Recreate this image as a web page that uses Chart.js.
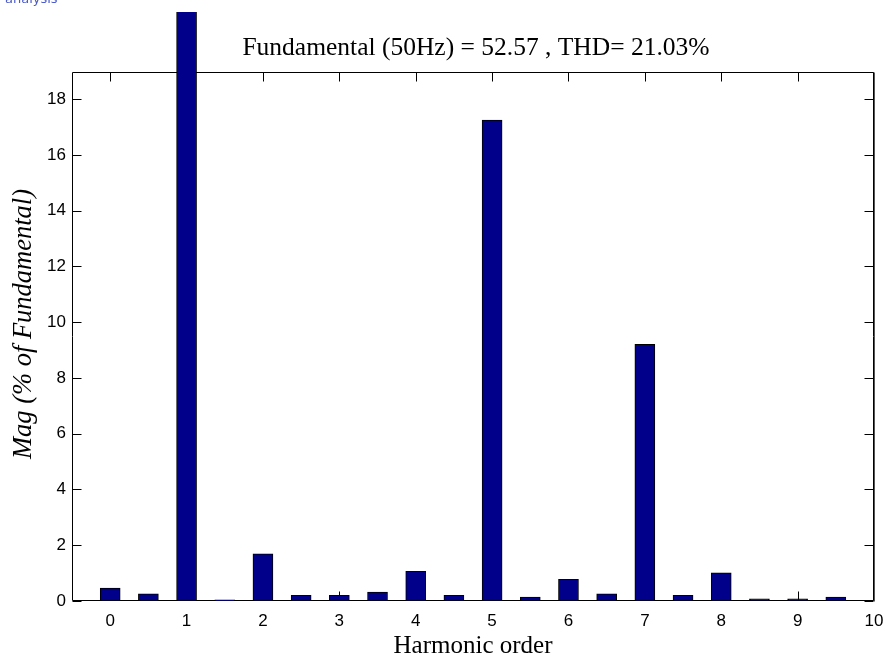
<!DOCTYPE html>
<html>
<head>
<meta charset="utf-8">
<script src="https://cdn.jsdelivr.net/npm/chart.js@4.4.1/dist/chart.umd.min.js"></script>
<style>
  html, body { margin: 0; padding: 0; background: #fff; }
  #wrap { position: relative; width: 889px; height: 661px; overflow: hidden; background: #fff; }
  #cap { position: absolute; left: 5px; top: -9px; font: 13px "DejaVu Sans", sans-serif; color: #4a5acc; }
  canvas { display: block; }
</style>
</head>
<body>
<div id="wrap">
  <div id="cap">analysis</div>
  <canvas id="c" width="889" height="661"></canvas>
</div>
<script>
// Harmonic spectrum, magnitudes in % of the fundamental
const harmonicOrders = [0, 0.5, 1, 1.5, 2, 2.5, 3, 3.5, 4, 4.5, 5, 5.5, 6, 6.5, 7, 7.5, 8, 8.5, 9, 9.5];
const magnitudes     = [0.46, 0.26, 100, 0.04, 1.69, 0.2, 0.2, 0.32, 1.06, 0.2, 17.25, 0.14, 0.78, 0.26, 9.2, 0.2, 1.01, 0.08, 0.08, 0.14];
const xTickValues = [0, 1, 2, 3, 4, 5, 6, 7, 8, 9, 10];
const yTickValues = [0, 2, 4, 6, 8, 10, 12, 14, 16, 18];
const titleText = 'Fundamental (50Hz) = 52.57 , THD= 21.03%';
const xLabel = 'Harmonic order';
const yLabel = 'Mag (% of Fundamental)';

const points = harmonicOrders.map((h, i) => ({ x: h, y: magnitudes[i] }));
const serif = '"Liberation Serif", "Times New Roman", serif';
const sans = '"Liberation Sans", Arial, sans-serif';

// Axes box with inward tick marks on all four sides, drawn beneath the bars
const framePlugin = {
  id: 'frame',
  beforeDatasetsDraw(chart) {
    const { ctx, chartArea: a, scales: { x, y } } = chart;
    const L = Math.round(a.left) + 0.5, R = Math.round(a.right) - 0.5;
    const T = Math.round(a.top) + 0.5, B = Math.round(a.bottom) - 0.5;
    const len = 9;
    ctx.save();
    ctx.strokeStyle = '#000';
    ctx.lineWidth = 1;
    ctx.beginPath();
    ctx.moveTo(L, T); ctx.lineTo(R, T); ctx.lineTo(R, B); ctx.lineTo(L, B); ctx.closePath();
    yTickValues.forEach(v => {
      const py = Math.round(y.getPixelForValue(v)) + 0.5;
      ctx.moveTo(L, py); ctx.lineTo(L + len, py);
      ctx.moveTo(R, py); ctx.lineTo(R - len, py);
    });
    xTickValues.forEach(v => {
      const px = Math.min(Math.round(x.getPixelForValue(v)) + 0.5, R);
      ctx.moveTo(px, T); ctx.lineTo(px, T + len);
      ctx.moveTo(px, B); ctx.lineTo(px, B - len);
    });
    ctx.stroke();
    // right edge of the box is a touch heavier
    ctx.strokeStyle = '#555';
    ctx.beginPath();
    ctx.moveTo(R + 1, T); ctx.lineTo(R + 1, B + 1);
    ctx.stroke();
    ctx.restore();
  },
  afterDraw(chart) {
    const { ctx, chartArea: a } = chart;
    ctx.save();
    ctx.fillStyle = '#000';
    ctx.font = '25.5px ' + serif;
    ctx.textAlign = 'center';
    ctx.textBaseline = 'alphabetic';
    ctx.fillText(titleText, (a.left + a.right) / 2 + 3, 55);
    // vertical axis label
    ctx.translate(24, 324);
    ctx.rotate(-Math.PI / 2);
    ctx.font = 'italic 26.5px ' + serif;
    ctx.textBaseline = 'middle';
    ctx.fillText(yLabel, 0, 0);
    ctx.restore();
  }
};

new Chart(document.getElementById('c'), {
  type: 'bar',
  data: {
    datasets: [{
      data: points,
      backgroundColor: '#00008B',
      borderColor: '#000',
      borderWidth: 1,
      borderSkipped: false,
      barThickness: 20,
      clip: { left: 0, top: 60, right: 0, bottom: 0 }
    }]
  },
  options: {
    responsive: false,
    animation: false,
    devicePixelRatio: 1,
    layout: { padding: { top: 72, right: 15, bottom: 0, left: 0 } },
    plugins: { legend: { display: false }, tooltip: { enabled: false }, title: { display: false } },
    scales: {
      x: {
        type: 'linear',
        offset: false,
        min: -0.5,
        max: 10,
        afterBuildTicks: s => { s.ticks = xTickValues.map(v => ({ value: v })); },
        afterFit: s => { s.height = 60; s.paddingLeft = 0; s.paddingRight = 0; },
        grid: { display: false, drawTicks: false, offset: false },
        border: { display: false },
        ticks: {
          color: '#000',
          padding: 10,
          maxRotation: 0,
          autoSkip: false,
          font: { family: sans, size: 17 }
        },
        title: {
          display: true,
          text: xLabel,
          color: '#000',
          padding: { top: 0, bottom: 0 },
          font: { family: serif, size: 25 }
        }
      },
      y: {
        min: 0,
        max: 18.97,
        afterBuildTicks: s => { s.ticks = yTickValues.map(v => ({ value: v })); },
        afterFit: s => { s.width = 72; },
        grid: { display: false, drawTicks: false },
        border: { display: false },
        ticks: {
          color: '#000',
          padding: 6,
          autoSkip: false,
          font: { family: sans, size: 17 }
        },
        title: { display: false }
      }
    }
  },
  plugins: [framePlugin]
});
</script>
</body>
</html>
